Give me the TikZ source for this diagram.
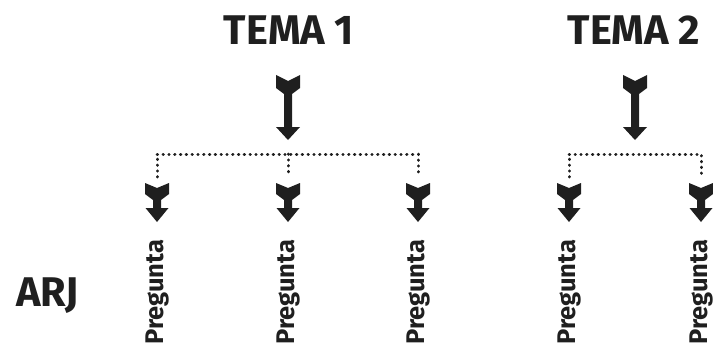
\documentclass[tikz,border=0pt]{standalone}
\usepackage{fontspec}
\setmainfont{Fira Sans}[UprightFont=* Bold]
\begin{document}
\begin{tikzpicture}[x=1pt,y=1pt,
  title/.style={font=\fontsize{41.5}{42}\selectfont, inner sep=0pt, anchor=base, text=black!88},
  qtext/.style={font=\fontsize{25.5}{26}\selectfont, inner sep=0pt, rotate=90, anchor=base west, text=black!88},
  dotline/.style={line width=3pt, line cap=round, dash pattern=on 0.4pt off 5.4pt, black!88},
  bigarrow/.pic={\fill[black!88] (-12,0) -- (0,-6) -- (12,0) -- (12,-13) -- (4,-19) -- (4,-52) -- (12,-52) -- (0,-65) -- (-12,-52) -- (-4,-52) -- (-4,-19) -- (-12,-13) -- cycle;},
  smallarrow/.pic={\fill[black!88] (-12,0) -- (0,-5) -- (12,0) -- (12,-11) -- (4,-17) -- (4,-25) -- (11.5,-25) -- (0,-39) -- (-11.5,-25) -- (-4,-25) -- (-4,-17) -- (-12,-11) -- cycle;}
]
\useasboundingbox (0,0) rectangle (713,349);
% titles
\node[title] (t1) at (289,304) {TEMA 1};
\node[title] (t2) at (634,304) {TEMA 2};
\node[title, anchor=base west] (arj) at (16,43) {ARJ};
% big arrows
\pic at (288,274) {bigarrow};
\pic at (635,274) {bigarrow};
% branch coordinates
\coordinate (b1) at (157,195);
\coordinate (b2) at (288,195);
\coordinate (b3) at (418,195);
\coordinate (b4) at (569,195);
\coordinate (b5) at (701,195);
\coordinate (e1) at (157,172);
\coordinate (e2) at (288,172);
\coordinate (e3) at (418,172);
\coordinate (e4) at (569,172);
\coordinate (e5) at (701,172);
\draw[dotline] (e1) -- (b1) -- (b3) -- (e3);
\draw[dotline] (b2) -- (e2);
\draw[dotline] (e4) -- (b4) -- (b5) -- (e5);
% small arrows
\foreach \x in {157,288,418,569,701} {\pic at (\x,166) {smallarrow};}
% questions
\node[qtext] (q1) at (163.5,4) {Pregunta};
\node[qtext] (q2) at (294.5,4) {Pregunta};
\node[qtext] (q3) at (424.5,4) {Pregunta};
\node[qtext] (q4) at (575.5,4) {Pregunta};
\node[qtext] (q5) at (707.5,4) {Pregunta};
\end{tikzpicture}
\end{document}
